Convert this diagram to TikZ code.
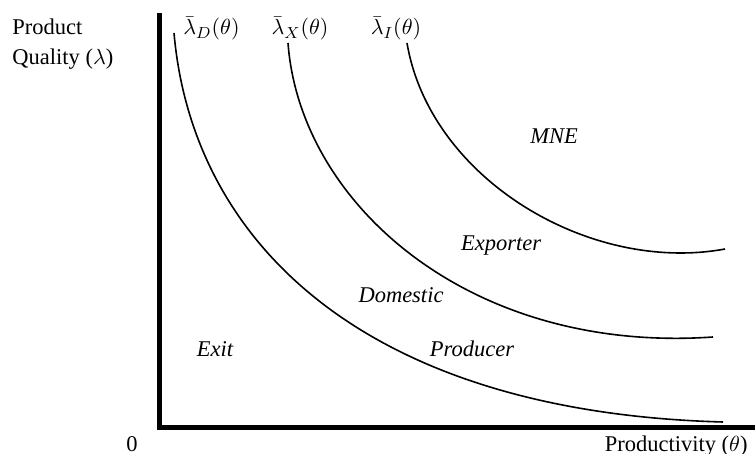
\documentclass[tikz,border=0pt]{standalone}
\usepackage{fontspec}
\setmainfont{Liberation Serif}
\usetikzlibrary{positioning}
\newcommand{\figfont}{\fontsize{11.25}{14}\selectfont}

\begin{document}
\begin{tikzpicture}[x=0.5pt,y=0.5pt,font=\figfont,
  every node/.style={inner sep=0pt},
  axisline/.style={line width=2.65pt,line join=miter},
  cutoff/.style={line width=0.8pt},
  zone/.style={anchor=base,font=\figfont\itshape},
  cutlabel/.style={anchor=base}]
  \useasboundingbox (0,0) rectangle (755,454);
  % axes
  \coordinate (top) at (159.5,441);
  \coordinate (orig) at (159.5,26.5);
  \coordinate (right) at (755,26.5);
  \draw[axisline] (top) -- (orig) -- (right);
  \node[anchor=base west] (ylab1) at (12,419) {Product};
  \node[anchor=base west] (ylab2) at (12,389) {Quality ($\lambda$)};
  \node[anchor=base] (zero) at (132,2) {0};
  \node[anchor=base east] (xlab) at (748,2) {Productivity ($\theta$)};
  % cutoff curves
  \coordinate (d0) at (174,421);  \coordinate (d1) at (723,32);
  \coordinate (x0) at (288,411);  \coordinate (x1) at (713,117);
  \coordinate (i0) at (407,411);  \coordinate (i1) at (725,205);
  \draw[cutoff] (d0) .. controls (192,215) and (360,42) .. (d1);
  \draw[cutoff] (x0) .. controls (300,250) and (470,100) .. (x1);
  \draw[cutoff] (i0) .. controls (430,275) and (590,180) .. (i1);
  \node[cutlabel] (labD) at (211.5,419) {$\bar{\lambda}_D(\theta)$};
  \node[cutlabel] (labX) at (300,419) {$\bar{\lambda}_X(\theta)$};
  \node[cutlabel] (labI) at (396,419) {$\bar{\lambda}_I(\theta)$};
  % regions
  \node[zone] (mne) at (554,310) {MNE};
  \node[zone] (exp) at (501,203) {Exporter};
  \node[zone] (dom) at (401,151) {Domestic};
  \node[zone] (prod) at (472,97) {Producer};
  \node[zone] (exit) at (215,97) {Exit};
\end{tikzpicture}
\end{document}
